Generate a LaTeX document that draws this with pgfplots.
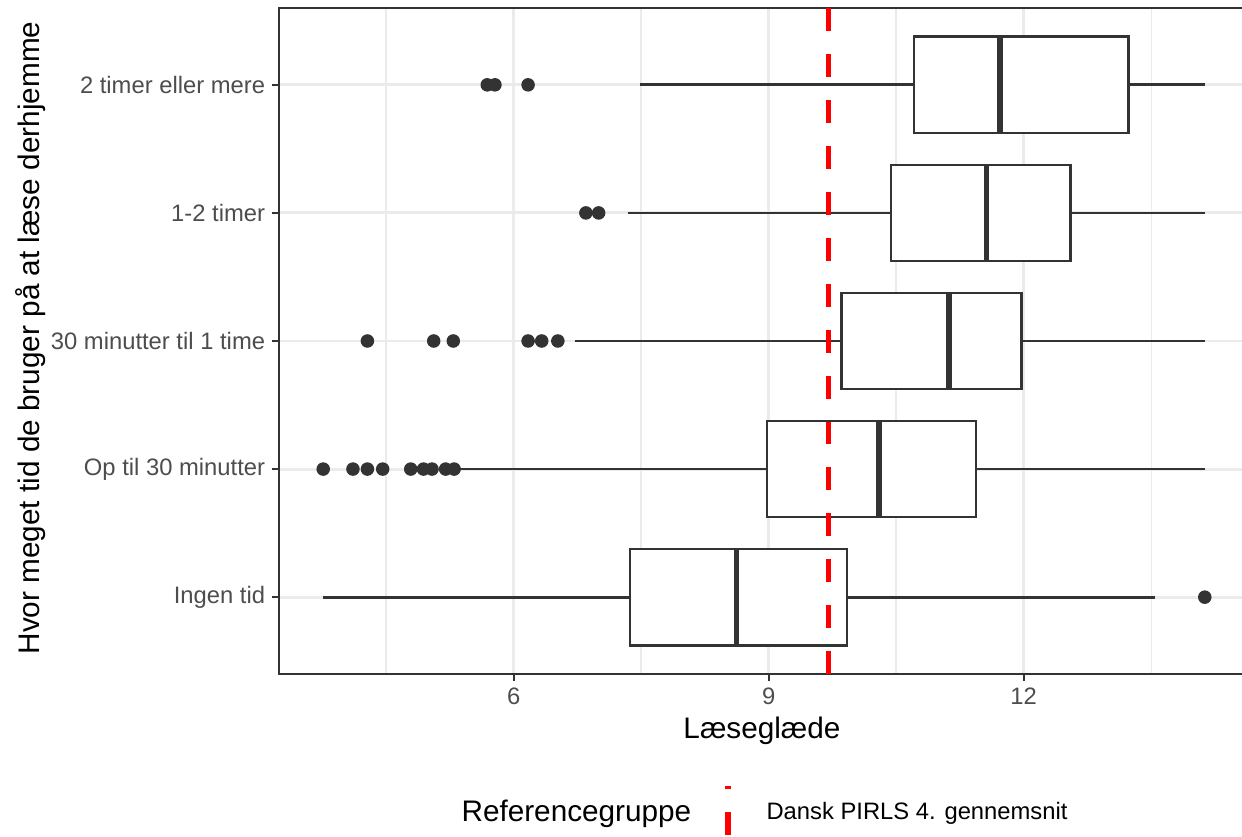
\documentclass[border=0pt]{standalone}
\usepackage{fontspec}
\setmainfont{Liberation Sans}
\usepackage{pgfplots}
\pgfplotsset{compat=1.18}
\usepgfplotslibrary{statistics}
\definecolor{grey92}{HTML}{EBEBEB}
\definecolor{grey20}{HTML}{333333}
\definecolor{grey30}{HTML}{4D4D4D}
\definecolor{refred}{HTML}{FF0000}
\begin{document}
\begin{tikzpicture}
\begin{axis}[
  at={(0,0)}, anchor=south west,
  scale only axis, width=358.9pt, height=246.42pt,
  xmin=3.24, xmax=14.65, ymin=-0.6, ymax=4.6,
  xtick={6,9,12}, minor xtick={4.5,7.5,10.5,13.5},
  ytick={0,1,2,3,4},
  yticklabels={Ingen tid, Op til 30 minutter, 30 minutter til 1 time, 1-2 timer, 2 timer eller mere},
  xtick pos=bottom, ytick pos=left,
  tick align=outside, major tick length=2.75pt, minor tick length=0pt,
  major tick style={grey20, line width=0.8pt},
  xmajorgrids, xminorgrids, ymajorgrids,
  major grid style={grey92, line width=1.07pt},
  minor grid style={grey92, line width=0.53pt},
  axis line style={grey20, line width=0.8pt},
  /pgf/number format/assume math mode=true,
  tick label style={font=\fontsize{8.8}{10}\selectfont, text=grey30},
  xticklabel style={inner sep=0pt, yshift=-2.2pt},
  yticklabel style={inner sep=0pt, xshift=-2.2pt},
  boxplot/draw direction=x,
  boxplot/box extend=0.75,
  boxplot/whisker extend=0,
  boxplot/every median/.style={line width=2pt},
]
% 2 timer eller mere
\addplot[draw=grey20, fill=white, line width=1pt, boxplot prepared={lower whisker=7.49, lower quartile=10.71, median=11.72, upper quartile=13.23, upper whisker=14.13, draw position=4}] coordinates {};
% 1-2 timer
\addplot[draw=grey20, fill=white, line width=1pt, boxplot prepared={lower whisker=7.34, lower quartile=10.44, median=11.56, upper quartile=12.55, upper whisker=14.13, draw position=3}] coordinates {};
% 30 minutter til 1 time
\addplot[draw=grey20, fill=white, line width=1pt, boxplot prepared={lower whisker=6.72, lower quartile=9.86, median=11.12, upper quartile=11.97, upper whisker=14.13, draw position=2}] coordinates {};
% Op til 30 minutter
\addplot[draw=grey20, fill=white, line width=1pt, boxplot prepared={lower whisker=5.36, lower quartile=8.98, median=10.30, upper quartile=11.44, upper whisker=14.13, draw position=1}] coordinates {};
% Ingen tid
\addplot[draw=grey20, fill=white, line width=1pt, boxplot prepared={lower whisker=3.76, lower quartile=7.37, median=8.62, upper quartile=9.92, upper whisker=13.54, draw position=0}] coordinates {};
% outliers
\addplot[only marks, mark=*, mark size=2.3pt, color=grey20, mark options={draw=grey20, fill=grey20}] coordinates {
 (5.69,4) (5.78,4) (6.17,4)
 (6.85,3) (7.00,3)
 (4.28,2) (5.06,2) (5.29,2) (6.17,2) (6.33,2) (6.52,2)
 (3.76,1) (4.11,1) (4.28,1) (4.46,1) (4.79,1) (4.94,1) (5.04,1) (5.20,1) (5.30,1)
 (14.13,0)
};
% reference line
\addplot[refred, line width=1.9pt, dash pattern=on 8.5pt off 8.5pt] coordinates {(9.706,4.6) (9.706,-0.6)};
\end{axis}
% axis titles
\node[anchor=base, inner sep=0pt, font=\fontsize{11}{13}\selectfont] at ({(762-279)*0.37pt},{(674-738)*0.37pt}) {Læseglæde};
\node[rotate=90, anchor=base, inner sep=0pt, font=\fontsize{11}{13}\selectfont] at ({(40-279)*0.37pt},{(674-338)*0.37pt}) {Hvor meget tid de bruger på at læse derhjemme};
% legend
\node[anchor=base west, inner sep=0pt, font=\fontsize{11}{13}\selectfont] at ({(461-279)*0.37pt},{(674-822)*0.37pt}) {Referencegruppe};
\draw[refred, line width=1.9pt, dash pattern=on 8.5pt off 8.5pt] ({(728-279)*0.37pt},{(674-835)*0.37pt}) -- ({(728-279)*0.37pt},{(674-786)*0.37pt});
\node[anchor=base west, inner sep=0pt, font=\fontsize{8.8}{10}\selectfont] at ({(766-279)*0.37pt},{(674-820)*0.37pt}) {Dansk PIRLS 4. gennemsnit};
\pgfresetboundingbox
\path[use as bounding box] ({-279*0.37pt},{(674-837)*0.37pt}) rectangle ({(1242-279)*0.37pt},{674*0.37pt});
\end{tikzpicture}
\end{document}
